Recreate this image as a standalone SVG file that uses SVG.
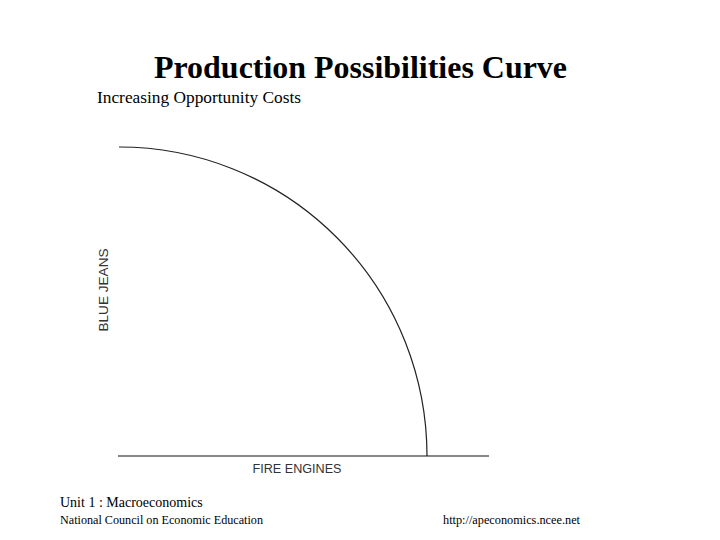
<svg xmlns="http://www.w3.org/2000/svg" width="720" height="540" viewBox="0 0 720 540">
<style>
.serif{font-family:"Liberation Serif",serif;fill:#000}
.sans{font-family:"Liberation Sans",sans-serif;fill:#333;font-size:12.5px}
</style>
<rect width="720" height="540" fill="#fff"/>
<text class="serif" x="154" y="78" font-size="31" font-weight="bold" textLength="413" lengthAdjust="spacingAndGlyphs">Production Possibilities Curve</text>
<text class="serif" x="97" y="103" font-size="16" fill="#222" textLength="204" lengthAdjust="spacingAndGlyphs">Increasing Opportunity Costs</text>
<g id="curve">
<path d="M119,147 A308,309 0 0 1 427,456" fill="none" stroke="#222" stroke-width="1.2"/>
</g>
<g id="connectors">
<line x1="118" y1="456" x2="489" y2="456" stroke="#111" stroke-width="1.2"/>
</g>
<text class="sans" transform="translate(108,290) rotate(-90)" text-anchor="middle" textLength="83" lengthAdjust="spacingAndGlyphs">BLUE JEANS</text>
<text class="sans" x="297" y="473" text-anchor="middle" textLength="89" lengthAdjust="spacingAndGlyphs">FIRE ENGINES</text>
<text class="serif" x="60" y="507" font-size="14">Unit 1 : Macroeconomics</text>
<text class="serif" x="60" y="524" font-size="12" textLength="203" lengthAdjust="spacingAndGlyphs">National Council on Economic Education</text>
<text class="serif" x="443" y="524" font-size="12" textLength="137" lengthAdjust="spacingAndGlyphs">http://apeconomics.ncee.net</text>
</svg>
